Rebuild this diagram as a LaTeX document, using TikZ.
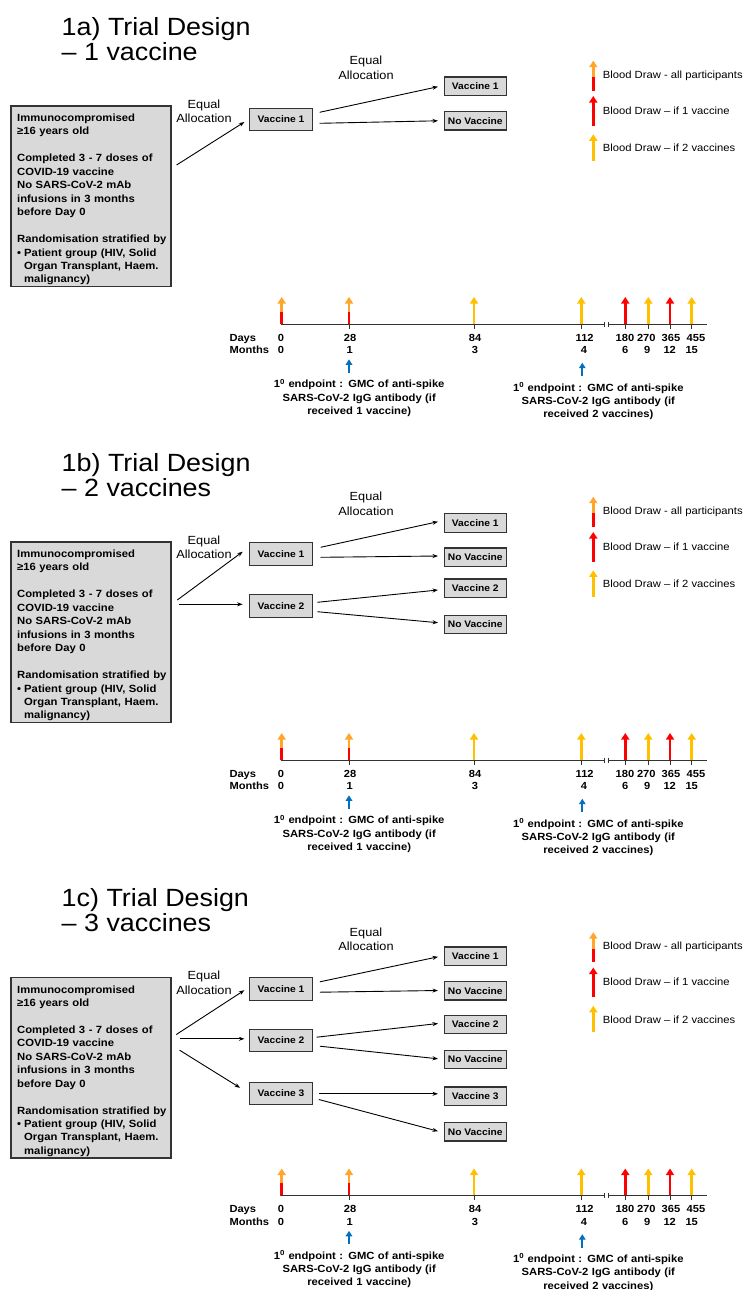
\documentclass[tikz,border=0pt]{standalone}
\usepackage{fontspec}
\setmainfont[FakeStretch=1.08]{Liberation Sans}
\usetikzlibrary{arrows.meta,calc}
\definecolor{gfill}{HTML}{D9D9D9}
\definecolor{gline}{HTML}{333333}
\definecolor{ared}{HTML}{FF0000}
\definecolor{ayel}{HTML}{FFC000}
\definecolor{aora}{HTML}{FFA62B}
\definecolor{ablue}{HTML}{0070C0}
\newcommand\fTitle{\fontsize{24.9pt}{25pt}\selectfont}
\newcommand\fLbox{\bfseries\fontsize{10.45pt}{13.45pt}\selectfont}
\newcommand\fVac{\bfseries\fontsize{9.5pt}{11pt}\selectfont}
\newcommand\fAlloc{\fontsize{11.8pt}{14.5pt}\selectfont}
\newcommand\fLeg{\fontsize{10.4pt}{12pt}\selectfont}
\newcommand\fNum{\bfseries\fontsize{10.3pt}{12pt}\selectfont}
\newcommand\fEnd{\bfseries\fontsize{10.4pt}{13.3pt}\selectfont}
\tikzset{
 greybox/.style={draw=gline, fill=gfill, line width=1.2pt, inner sep=0pt},
 vacbox/.style={greybox, minimum width=63pt, minimum height=22.5pt, font=\fVac},
 outbox/.style={greybox, minimum width=62pt, minimum height=18.5pt, font=\fVac},
 conn/.style={line width=0.9pt, -{Stealth[length=5.5pt,width=4pt]}},
 tline/.style={line width=1.1pt, draw=gline},
 ticky/.style={line width=0.9pt, draw=gline},
 brk/.style={line width=1.6pt, draw=gline},
 bdarr/.style={line width=2.8pt, -{Triangle[length=6.5pt 0 0,width=8pt 0 0]}},
 bluearr/.style={draw=ablue, color=ablue, line width=2.2pt, -{Triangle[length=5.5pt 0 0,width=6.5pt 0 0]}},
 lbl/.style={inner sep=0pt, anchor=base},
 alloc/.style={lbl, font=\fAlloc, text width=70pt, align=center},
}
\newcommand\trialpart[3]{%
\begin{scope}[shift={(0,#2)}]
 \node[lbl, anchor=base west, font=\fTitle] (#1title) at (61.5,35.3) {1#1) Trial Design};
 \node[lbl, anchor=base west, font=\fTitle] (#1title2) at (61.5,60.3) {#3};
 \node[greybox, minimum width=160pt, minimum height=180.5pt] (#1box) at (91,196.25) {};
 \node[anchor=base west, inner sep=0pt, text width=152pt, align=left, font=\fLbox] (#1boxtext) at (17,121.5)
  {Immunocompromised\\ ≥16 years old\\[13.45pt] Completed 3 - 7 doses of\\ COVID-19 vaccine\\ No SARS-CoV-2 mAb\\ infusions in 3 months\\ before Day 0\\[13.45pt] Randomisation stratified by\\ \makebox[7pt][l]{•}Patient group (HIV, Solid\\ \hspace*{7pt}Organ Transplant, Haem.\\ \hspace*{7pt}malignancy)};
 % legend
 \draw[bdarr, -, draw=ared] (593.3,90.7) -- (593.3,76.5);
 \draw[bdarr, color=aora] (593.3,77) -- (593.3,60.7);
 \node[lbl, anchor=base west, font=\fLeg] (#1leg1) at (602.7,78.3) {Blood Draw - all participants};
 \draw[bdarr, color=ared] (593.3,125.7) -- (593.3,96);
 \node[lbl, anchor=base west, font=\fLeg] (#1leg2) at (602.7,114) {Blood Draw – if 1 vaccine};
 \draw[bdarr, color=ayel] (593.3,160.7) -- (593.3,134.3);
 \node[lbl, anchor=base west, font=\fLeg] (#1leg3) at (602.7,151.7) {Blood Draw – if 2 vaccines};
 % timeline arrows
 \foreach \x in {281.7,349} {\draw[bdarr,-,draw=ared] (\x,324.3) -- (\x,311.3); \draw[bdarr,color=aora] (\x,311.8) -- (\x,297);}
 \foreach \x in {474,581.3,648.3,691.7} \draw[bdarr,color=ayel] (\x,324.3) -- (\x,297);
 \foreach \x in {625.3,670} \draw[bdarr,color=ared] (\x,324.3) -- (\x,297);
 % timeline
 \draw[tline] (281.2,324.3) coordinate (#1tstart) -- (604,324.3);
 \draw[tline] (608.6,324.3) -- (706.7,324.3) coordinate (#1tend);
 \draw[brk] (604.3,321.8) -- (604.3,326.8) (608.3,321.8) -- (608.3,326.8);
 \foreach \x in {349,474,581.3,625.3,648.3,670,691.7} \draw[ticky] (\x,324.3) -- (\x,328.6);
 \node[lbl, anchor=base west, font=\fNum] (#1days) at (229.3,341) {Days};
 \node[lbl, anchor=base west, font=\fNum] (#1months) at (229.3,353.5) {Months};
 \foreach \x/\t in {281/0,350/28,475/84,584.7/112,625/180,646.3/270,671/365,696/455} \node[lbl,font=\fNum] (#1d\t) at (\x,341) {\t};
 \foreach \x/\t in {281/0,349.7/1,475/3,584/4,625.3/6,647.3/9,669.7/12,691.7/15} \node[lbl,font=\fNum] (#1m\t) at (\x,353.5) {\t};
 % endpoints
 \draw[bluearr] (349,372.7) -- (349,359.3);
 \draw[bluearr] (582.3,376) -- (582.3,362.7);
 \node[lbl, font=\fEnd, text width=200pt, align=center] (#1ep1) at (359.2,387.7) {1\textsuperscript{0} endpoint : GMC of anti-spike\\SARS-CoV-2 IgG antibody (if\\received 1 vaccine)};
 \node[lbl, font=\fEnd, text width=200pt, align=center] (#1ep2) at (598.3,391) {1\textsuperscript{0} endpoint : GMC of anti-spike\\SARS-CoV-2 IgG antibody (if\\received 2 vaccines)};
\end{scope}}
\begin{document}
\begin{tikzpicture}[x=1pt,y=-1pt]
\useasboundingbox (0,0) rectangle (743,1290);
\fill[white] (0,0) rectangle (743,1290);
\trialpart{a}{0}{– 1 vaccine}
\trialpart{b}{436}{– 2 vaccines}
\trialpart{c}{871.5}{– 3 vaccines}
% ---- 1a tree
\begin{scope}[shift={(0,0)}]
 \node[vacbox] (av1) at (281,119.5) {Vaccine 1};
 \node[outbox] (ar1) at (475.3,86.2) {Vaccine 1};
 \node[outbox] (ar2) at (475.3,120.8) {No Vaccine};
 \node[alloc] (aeq1) at (204,108) {Equal\\Allocation};
 \node[alloc] (aeq2) at (366,64.5) {Equal\\Allocation};
 \draw[conn] ([xshift=5pt,yshift=31.25pt]abox.east) -- ([xshift=-4.5pt,yshift=-2.5pt]av1.west);
 \draw[conn] ([xshift=6.5pt,yshift=7.2pt]av1.east) -- ([xshift=-5.7pt,yshift=-0.5pt]ar1.west);
 \draw[conn] ([xshift=6.5pt,yshift=-3.8pt]av1.east) -- ([xshift=-5.7pt]ar2.west);
\end{scope}
% ---- 1b tree
\begin{scope}[shift={(0,436)}]
 \node[vacbox] (bv1) at (281,118) {Vaccine 1};
 \node[vacbox] (bv2) at (281,170) {Vaccine 2};
 \node[outbox] (br1) at (475.3,87) {Vaccine 1};
 \node[outbox] (br2) at (475.3,121.2) {No Vaccine};
 \node[outbox] (br3) at (475.3,152.3) {Vaccine 2};
 \node[outbox] (br4) at (475.3,188.5) {No Vaccine};
 \node[alloc] (beq1) at (204,108) {Equal\\Allocation};
 \node[alloc] (beq2) at (366,64.5) {Equal\\Allocation};
 \draw[conn] ([xshift=5.7pt,yshift=32.25pt]bbox.east) -- ([xshift=-6.2pt,yshift=2.3pt]bv1.west);
 \draw[conn] ([xshift=7.3pt,yshift=27.95pt]bbox.east) -- ([xshift=-6.2pt,yshift=1.7pt]bv2.west);
 \draw[conn] ([xshift=7.5pt,yshift=6.7pt]bv1.east) -- ([xshift=-5.7pt,yshift=1.3pt]br1.west);
 \draw[conn] ([xshift=7.5pt,yshift=-3.3pt]bv1.east) -- ([xshift=-5.7pt,yshift=1.2pt]br2.west);
 \draw[conn] ([xshift=4.2pt,yshift=3.7pt]bv2.east) -- ([xshift=-5.7pt,yshift=-1.7pt]br3.west);
 \draw[conn] ([xshift=4.2pt,yshift=-5.7pt]bv2.east) -- ([xshift=-5.7pt,yshift=1.8pt]br4.west);
\end{scope}
% ---- 1c tree
\begin{scope}[shift={(0,871.5)}]
 \node[vacbox] (cv1) at (281,117.5) {Vaccine 1};
 \node[vacbox] (cv2) at (281,169) {Vaccine 2};
 \node[vacbox] (cv3) at (281,222) {Vaccine 3};
 \node[outbox] (cr1) at (475.3,84.7) {Vaccine 1};
 \node[outbox] (cr2) at (475.3,119.3) {No Vaccine};
 \node[outbox] (cr3) at (475.3,153) {Vaccine 2};
 \node[outbox] (cr4) at (475.3,188) {No Vaccine};
 \node[outbox] (cr5) at (475.3,224.7) {Vaccine 3};
 \node[outbox] (cr6) at (475.3,260.2) {No Vaccine};
 \node[alloc] (ceq1) at (204,108) {Equal\\Allocation};
 \node[alloc] (ceq2) at (366,64.5) {Equal\\Allocation};
 \draw[conn] ([xshift=4.7pt,yshift=33.25pt]cbox.east) -- ([xshift=-4.5pt,yshift=-1.2pt]cv1.west);
 \draw[conn] ([xshift=8pt,yshift=28.95pt]cbox.east) -- ([xshift=-4.5pt,yshift=1.7pt]cv2.west);
 \draw[conn] ([xshift=8pt,yshift=17.55pt]cbox.east) -- ([xshift=-8.8pt,yshift=5.7pt]cv3.west);
 \draw[conn] ([xshift=6.8pt,yshift=7.2pt]cv1.east) -- ([xshift=-5.7pt,yshift=-0.6pt]cr1.west);
 \draw[conn] ([xshift=6.8pt,yshift=-3.2pt]cv1.east) -- ([xshift=-5.7pt,yshift=0.3pt]cr2.west);
 \draw[conn] ([xshift=3.5pt,yshift=3.3pt]cv2.east) -- ([xshift=-5.7pt,yshift=1pt]cr3.west);
 \draw[conn] ([xshift=6.8pt,yshift=-5.7pt]cv2.east) -- ([xshift=-5.7pt,yshift=0.7pt]cr4.west);
 \draw[conn] ([xshift=5.8pt,yshift=-0.3pt]cv3.east) -- ([xshift=-5.7pt,yshift=2.4pt]cr5.west);
 \draw[conn] ([xshift=5.8pt,yshift=-6pt]cv3.east) -- ([xshift=-5.7pt,yshift=0.5pt]cr6.west);
\end{scope}
\end{tikzpicture}
\end{document}
